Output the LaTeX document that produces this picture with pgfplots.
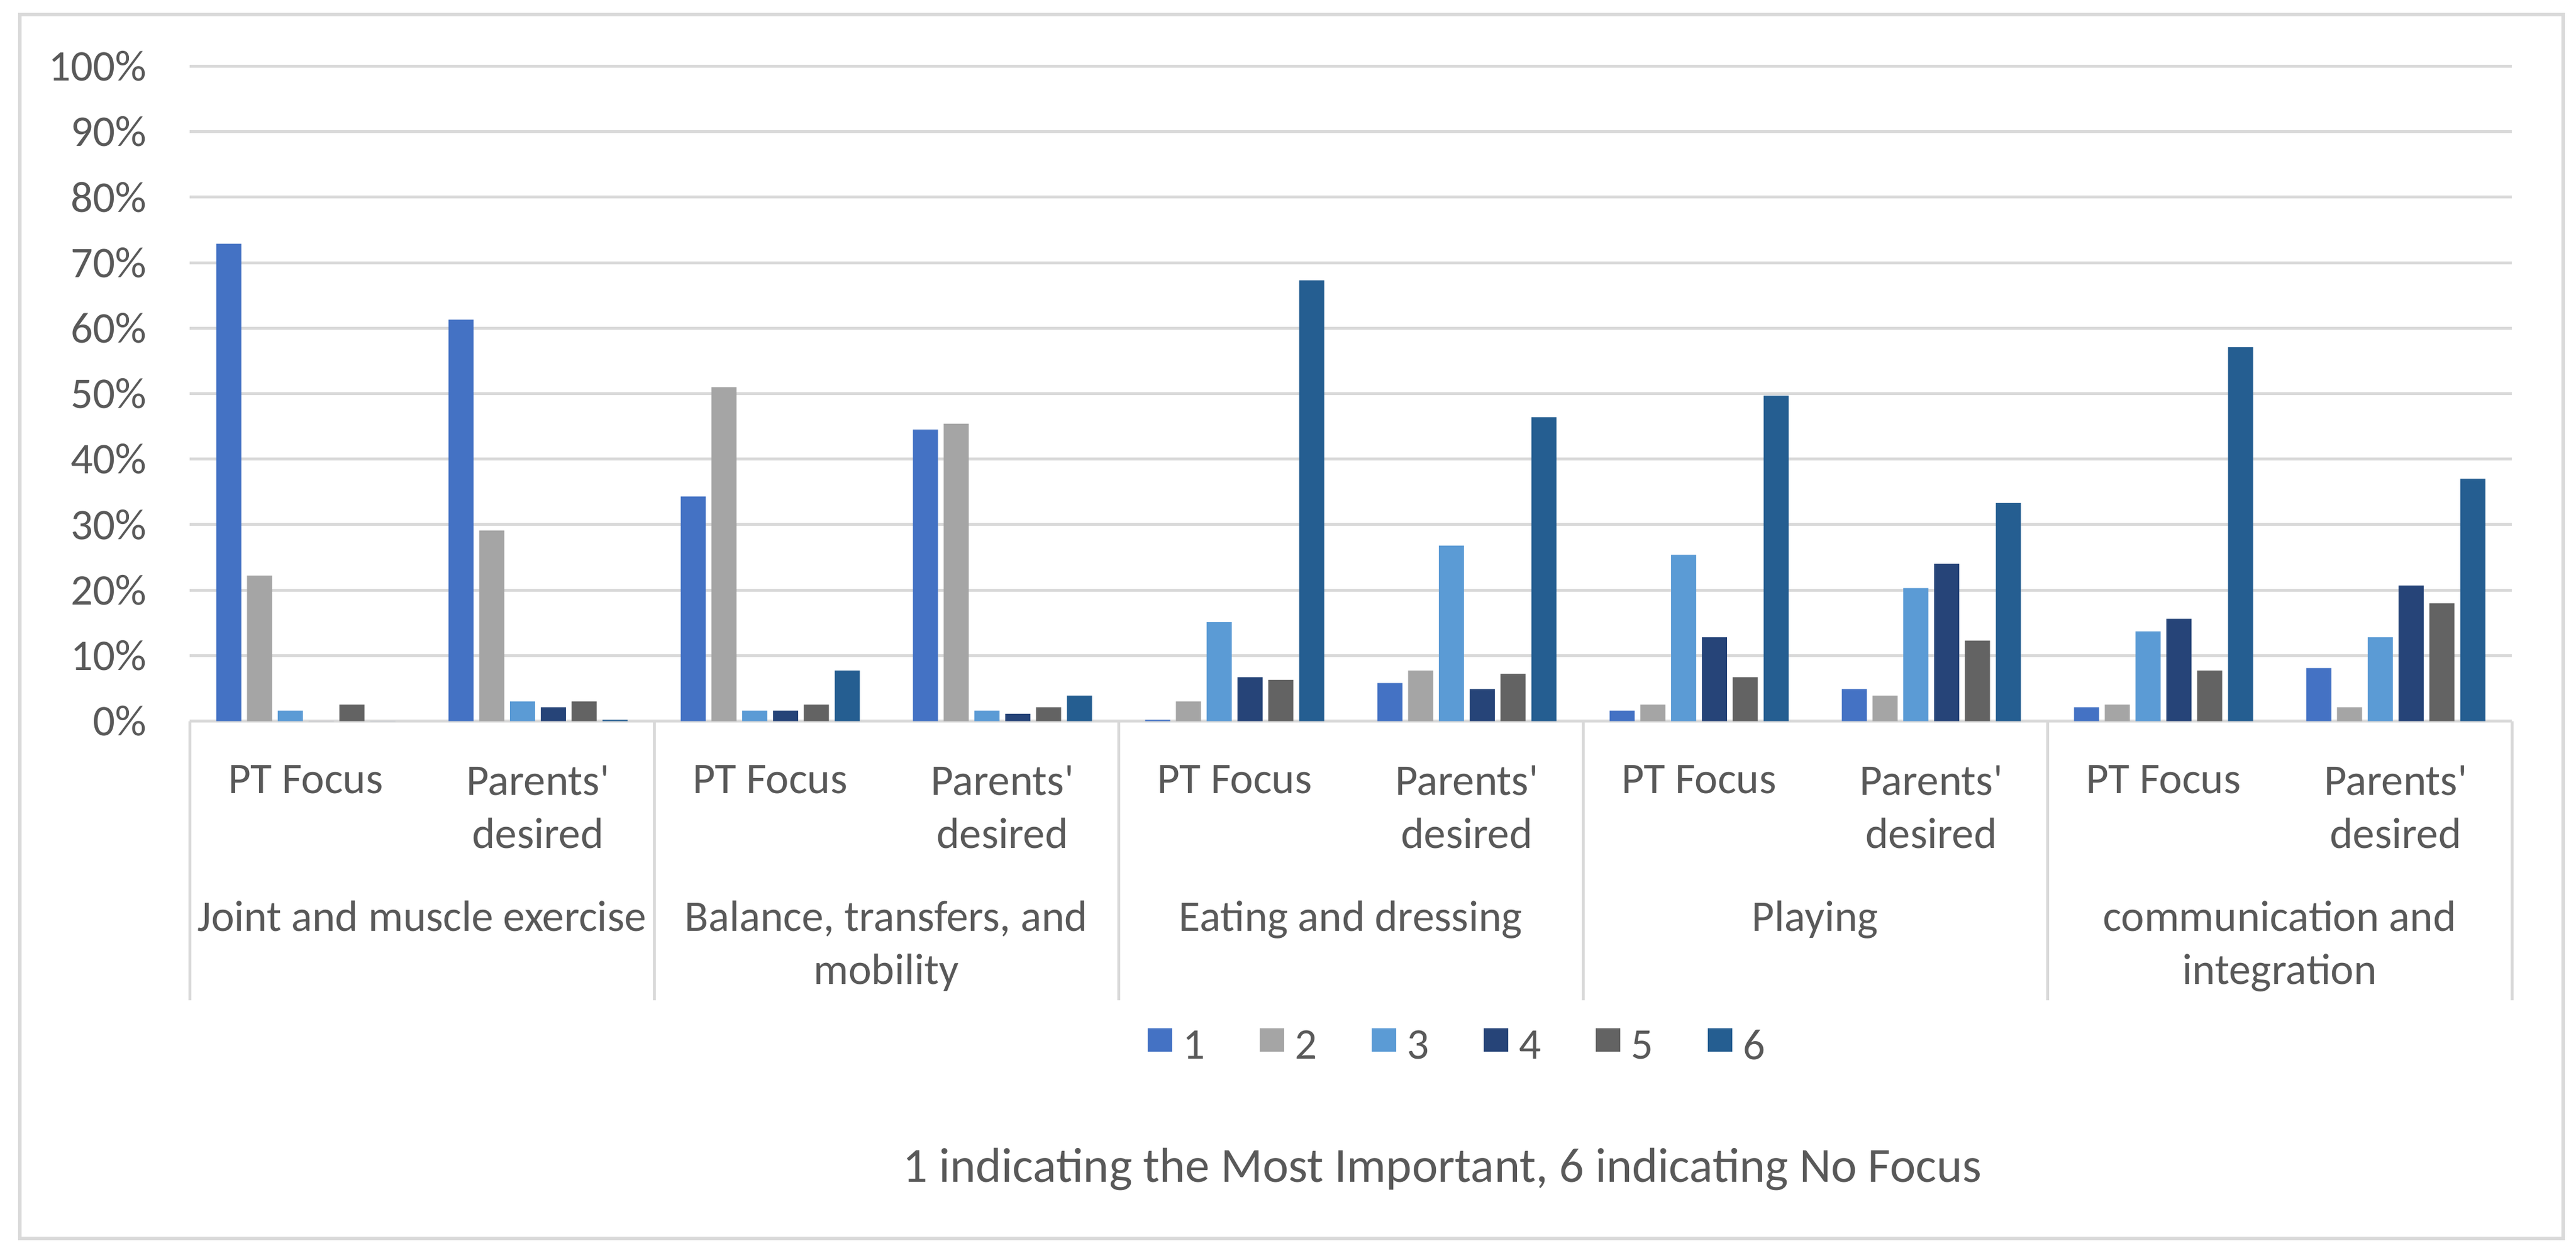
\documentclass[border=0pt]{standalone}
\usepackage{pgfplots}
\usepackage{pgfplotstable}
\pgfplotsset{compat=1.18}
\usepackage{fontspec}
\setmainfont{Carlito}[Ligatures=TeXOff]

\definecolor{c1}{HTML}{4472C4}
\definecolor{c2}{HTML}{A5A5A5}
\definecolor{c3}{HTML}{5B9BD5}
\definecolor{c4}{HTML}{264478}
\definecolor{c5}{HTML}{636363}
\definecolor{c6}{HTML}{255E91}
\definecolor{txt}{HTML}{595959}
\definecolor{gridgrey}{HTML}{D9D9D9}

\newcommand{\lbl}{\fontsize{7.5}{9.1}\selectfont}

% share of answers per rank (1 = most important ... 6 = no focus)
\pgfplotstableread{
x s1 s2 s3 s4 s5 s6
0 72.9 22.2 1.6 0 2.5 0
1 61.3 29.1 3.0 2.1 3.0 0.2
2 34.3 51.0 1.6 1.6 2.5 7.7
3 44.5 45.4 1.6 1.1 2.1 3.9
4 0.2 3.0 15.1 6.7 6.3 67.3
5 5.8 7.7 26.8 4.9 7.2 46.4
6 1.6 2.5 25.4 12.8 6.7 49.7
7 4.9 3.9 20.3 24.0 12.3 33.3
8 2.1 2.5 13.7 15.6 7.7 57.1
9 8.1 2.1 12.8 20.7 18.0 37.0
}\datatable

\begin{document}
\begin{tikzpicture}
\path[use as bounding box] (0,0) rectangle (441.5pt,214.6pt);
\fill[white] (0,0) rectangle (441.5pt,214.6pt);
\draw[gridgrey, line width=0.6pt] (3.4pt,2.4pt) rectangle (439.3pt,212.1pt);
\begin{axis}[
  at={(32.5pt,91.05pt)}, anchor=south west,
  scale only axis, width=398pt, height=112.2pt,
  ybar=0.98pt, bar width=4.3pt,
  xmin=-0.5, xmax=9.5, ymin=0, ymax=100,
  xtick={0,...,9},
  xticklabels={PT Focus,{Parents'\\desired},PT Focus,{Parents'\\desired},PT Focus,{Parents'\\desired},PT Focus,{Parents'\\desired},PT Focus,{Parents'\\desired}},
  ytick={0,10,...,100},
  yticklabel={\pgfmathprintnumber{\tick}\%},
  ymajorgrids, grid style={gridgrey, line width=0.5pt},
  separate axis lines,
  axis x line*=bottom, axis y line*=left,
  x axis line style={gridgrey, line width=0.5pt, -},
  y axis line style={draw=none},
  major tick length=0pt, tick style={draw=none},
  tick label style={text=txt, font=\lbl},
  /pgf/number format/assume math mode=true,
  yticklabel style={anchor=east, inner sep=0pt, xshift=-7.2pt},
  xticklabel style={anchor=north, align=center, inner sep=0pt, yshift=-7.4pt},
  clip=false,
  legend columns=6,
  legend style={at={(0.5455,-0.4996)}, anchor=center, draw=none, fill=none,
    font=\lbl, text=txt, nodes={inner sep=0pt, text=txt},
    /tikz/every odd column/.append style={column sep=1.8pt},
    /tikz/every even column/.append style={column sep=9.4pt}},
  legend cell align=left,
  legend image code/.code={\fill[#1] (0pt,-0.4pt) rectangle (4.2pt,3.6pt);},
]
\addplot[fill=c1, draw=none] table[x=x, y=s1]{\datatable};
\addplot[fill=c2, draw=none] table[x=x, y=s2]{\datatable};
\addplot[fill=c3, draw=none] table[x=x, y=s3]{\datatable};
\addplot[fill=c4, draw=none] table[x=x, y=s4]{\datatable};
\addplot[fill=c5, draw=none] table[x=x, y=s5]{\datatable};
\addplot[fill=c6, draw=none] table[x=x, y=s6]{\datatable};
\legend{1,2,3,4,5,6}

\pgfplotsinvokeforeach{-0.5,1.5,3.5,5.5,7.5,9.5}{
  \draw[gridgrey, line width=0.5pt] (axis cs:#1,0) -- ++(0pt,-47.8pt);
}
\begin{scope}[every node/.style={anchor=base, inner sep=0pt, text=txt, font=\lbl}]
\node at ([yshift=-35.95pt]axis cs:0.5,0) {Joint and muscle exercise};
\node at ([yshift=-35.95pt]axis cs:2.5,0) {Balance, transfers, and};
\node at ([yshift=-45.05pt]axis cs:2.5,0) {mobility};
\node at ([yshift=-35.95pt]axis cs:4.5,0) {Eating and dressing};
\node at ([yshift=-35.95pt]axis cs:6.5,0) {Playing};
\node at ([yshift=-35.95pt]axis cs:8.5,0) {communication and};
\node at ([yshift=-45.05pt]axis cs:8.5,0) {integration};
\end{scope}
\end{axis}
\node[anchor=base, inner sep=0pt, text=txt, font=\fontsize{8.4}{10}\selectfont] at (247.2pt,12.1pt)
  {1 indicating the Most Important, 6 indicating No Focus};
\end{tikzpicture}
\end{document}
